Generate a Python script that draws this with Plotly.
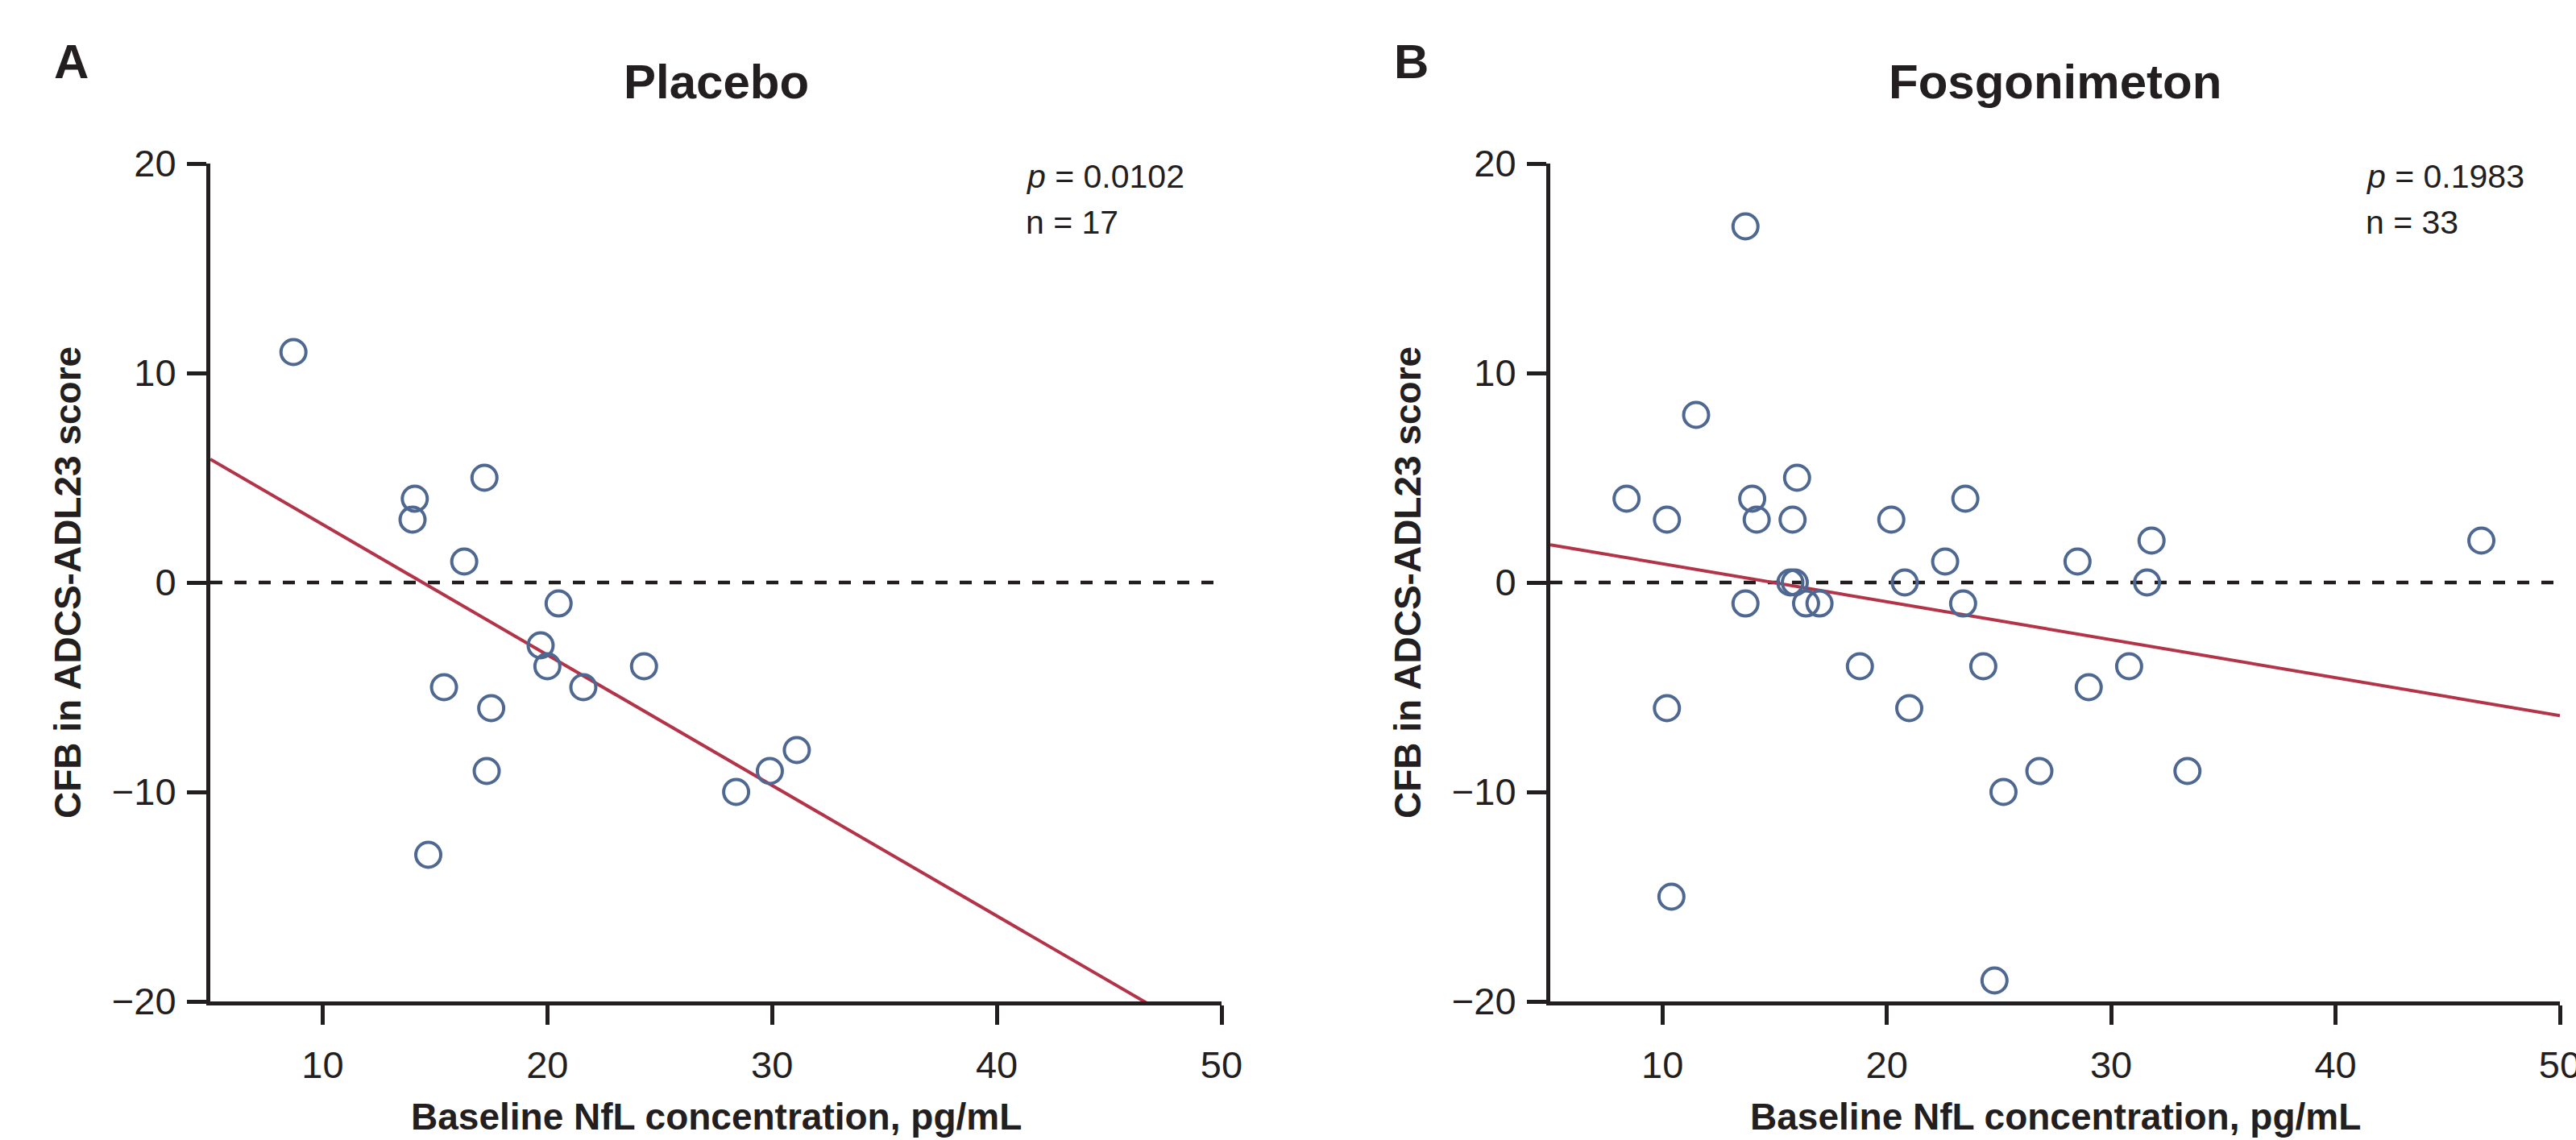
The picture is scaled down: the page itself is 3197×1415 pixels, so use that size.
import numpy as np
import plotly.graph_objects as go

# ---- data ----
placebo_nfl = [8.7, 14.1, 14.0, 17.2, 16.3, 20.5, 19.7, 20.0, 15.4, 17.5, 21.6, 24.3, 17.3, 14.7, 28.4, 29.9, 31.1]
placebo_cfb = [11, 4, 3, 5, 1, -1, -3, -4, -5, -6, -5, -4, -9, -13, -10, -9, -8]

fosgo_nfl = [13.7, 11.5, 8.4, 10.2, 14.0, 14.2, 16.0, 15.8, 20.2, 23.5, 22.6, 15.7, 15.9,
             13.7, 16.4, 17.0, 20.8, 23.4, 28.5, 31.8, 31.6, 18.8, 24.3, 30.8, 29.0, 10.2,
             21.0, 25.2, 26.8, 10.4, 24.8, 33.4, 46.5]
fosgo_cfb = [17, 8, 4, 3, 4, 3, 5, 3, 3, 4, 1, 0, 0,
             -1, -1, -1, 0, -1, 1, 2, 0, -4, -4, -4, -5, -6,
             -6, -10, -9, -15, -19, -9, 2]

panel_titles = ["Placebo", "Fosgonimeton"]
panel_letters = ["A", "B"]
p_values = ["0.0102", "0.1983"]
n_values = ["17", "33"]
x_ticks = [10, 20, 30, 40, 50]
y_ticks = [-20, -10, 0, 10, 20]
x_range = [5, 50]
y_range = [-20, 20]

W, H = 3197, 1415
FONT = "Liberation Sans, Arial, Helvetica, sans-serif"
MARKER_C = "#4e6892"
LINE_C = "#b33448"
INK = "#231f20"

# panel geometry (pixels)
left_px = [261, 1924]
right_px = [1516, 3177]
top_px, bot_px = 203, 1243

fig = go.Figure()
datasets = [(placebo_nfl, placebo_cfb), (fosgo_nfl, fosgo_cfb)]

for i, (xs, ys) in enumerate(datasets):
    xa = "x" if i == 0 else "x2"
    ya = "y" if i == 0 else "y2"
    # zero reference line
    fig.add_trace(go.Scatter(x=x_range, y=[0, 0], mode="lines", xaxis=xa, yaxis=ya,
                             line=dict(color=INK, width=4.5, dash="15px,15px"),
                             showlegend=False, hoverinfo="skip"))
    # regression line (least squares fit of the data)
    slope, icpt = np.polyfit(np.array(xs), np.array(ys), 1)
    lx = np.array(x_range, dtype=float)
    fig.add_trace(go.Scatter(x=lx, y=slope * lx + icpt, mode="lines", xaxis=xa, yaxis=ya,
                             line=dict(color=LINE_C, width=4),
                             showlegend=False, hoverinfo="skip"))
    # points
    fig.add_trace(go.Scatter(x=xs, y=ys, mode="markers", xaxis=xa, yaxis=ya,
                             marker=dict(symbol="circle-open", size=31, color=MARKER_C,
                                         line=dict(width=4, color=MARKER_C)),
                             cliponaxis=False, showlegend=False))

def axis_common():
    return dict(showline=True, linecolor=INK, linewidth=5, mirror=False,
                ticks="outside", ticklen=24, tickwidth=5, tickcolor=INK,
                showgrid=False, zeroline=False, automargin=False,
                ticklabeloverflow="allow",
                tickfont=dict(family=FONT, size=47, color=INK))

layout = dict(width=W, height=H, autosize=False, margin=dict(l=0, r=0, t=0, b=0, pad=0),
              paper_bgcolor="white", plot_bgcolor="white", showlegend=False,
              font=dict(family=FONT, color=INK))

for i in range(2):
    sfx = "" if i == 0 else "2"
    xd = [left_px[i] / W, right_px[i] / W]
    yd = [1 - bot_px / H, 1 - top_px / H]
    xa = axis_common()
    xa.update(domain=xd, range=x_range, tickvals=x_ticks, anchor="y" + sfx,
              ticklabelstandoff=10)
    ya = axis_common()
    ya.update(domain=yd, range=y_range, tickvals=y_ticks, anchor="x" + sfx,
              ticklabelstandoff=4)
    layout["xaxis" + sfx] = xa
    layout["yaxis" + sfx] = ya

fig.update_layout(**layout)

ann = []
for i in range(2):
    L, R = left_px[i], right_px[i]
    cx = (L + R) / 2
    # panel letter
    ann.append(dict(text=f"<b>{panel_letters[i]}</b>", x=(L - 173) / W, y=1 - 77 / H,
                    xref="paper", yref="paper", xanchor="center", yanchor="middle",
                    showarrow=False, font=dict(family=FONT, size=60, color=INK)))
    # title
    ann.append(dict(text=f"<b>{panel_titles[i]}</b>", x=cx / W, y=1 - 102 / H,
                    xref="paper", yref="paper", xanchor="center", yanchor="middle",
                    showarrow=False, font=dict(family=FONT, size=60, color=INK)))
    # stats
    ann.append(dict(text=f"<i>p</i> = {p_values[i]}", x=(L + 1010) / W, y=1 - 219 / H,
                    xref="paper", yref="paper", xanchor="left", yanchor="middle",
                    showarrow=False, font=dict(family=FONT, size=41, color=INK)))
    ann.append(dict(text=f"n = {n_values[i]}", x=(L + 1010) / W, y=1 - 276 / H,
                    xref="paper", yref="paper", xanchor="left", yanchor="middle",
                    showarrow=False, font=dict(family=FONT, size=41, color=INK)))
    # axis titles
    ann.append(dict(text="<b>Baseline NfL concentration, pg/mL</b>", x=cx / W, y=1 - 1386 / H,
                    xref="paper", yref="paper", xanchor="center", yanchor="middle",
                    showarrow=False, font=dict(family=FONT, size=46, color=INK)))
    ann.append(dict(text="<b>CFB in ADCS-ADL23 score</b>", x=(L - 177) / W,
                    y=1 - ((top_px + bot_px) / 2) / H,
                    xref="paper", yref="paper", xanchor="center", yanchor="middle",
                    textangle=-90, showarrow=False,
                    font=dict(family=FONT, size=46, color=INK)))

fig.update_layout(annotations=ann)
fig.write_html("out.html", config={"displayModeBar": False},
               post_script="document.body.style.margin='0';document.body.style.overflow='hidden';")
